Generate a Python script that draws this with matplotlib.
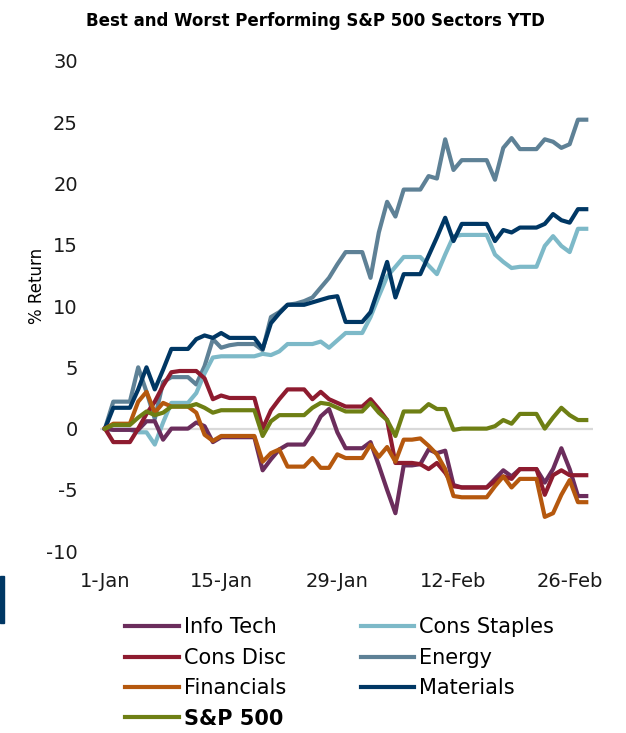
import matplotlib
matplotlib.use("Agg")
import matplotlib.pyplot as plt
import numpy as np
import pandas as pd
from matplotlib.patches import Rectangle

plt.rcParams["axes.unicode_minus"] = False

# daily YTD % return, 1-Jan .. 28-Feb
dates = pd.date_range("2021-01-01", periods=59, freq="D")
tick_dates = pd.to_datetime(["2021-01-01", "2021-01-15", "2021-01-29", "2021-02-12", "2021-02-26"])
tick_labels = ["1-Jan", "15-Jan", "29-Jan", "12-Feb", "26-Feb"]

info_tech = [0, -0.1, -0.1, -0.1, -0.1, 0.6, 0.6, -0.9, 0.0, 0.0,
             0.0, 0.5, 0.2, -1.1, -0.7, -0.7, -0.7, -0.7, -0.7, -3.4,
             -2.5, -1.7, -1.3, -1.3, -1.3, -0.3, 1.0, 1.6, -0.3, -1.6,
             -1.6, -1.6, -1.1, -3.0, -5.0, -6.9, -3.0, -3.0, -2.9, -1.7,
             -2.0, -1.8, -4.6, -4.8, -4.8, -4.8, -4.8, -4.1, -3.4, -3.9,
             -3.3, -3.3, -3.3, -4.4, -3.3, -1.6, -3.3, -5.5, -5.5]
cons_staples = [0, -0.1, -0.1, -0.1, -0.3, -0.3, -1.3, 0.5, 2.1, 2.1,
                2.1, 2.9, 4.5, 5.8, 5.9, 5.9, 5.9, 5.9, 5.9, 6.1,
                6.0, 6.3, 6.9, 6.9, 6.9, 6.9, 7.1, 6.6, 7.2, 7.8,
                7.8, 7.8, 9.1, 10.8, 12.4, 13.2, 14.0, 14.0, 14.0, 13.3,
                12.6, 14.2, 15.7, 15.8, 15.8, 15.8, 15.8, 14.2, 13.6, 13.1,
                13.2, 13.2, 13.2, 14.9, 15.7, 14.9, 14.4, 16.3, 16.3]
cons_disc = [0, -1.1, -1.1, -1.1, 0.0, 1.2, 2.2, 3.5, 4.6, 4.7,
             4.7, 4.7, 4.1, 2.4, 2.7, 2.5, 2.5, 2.5, 2.5, 0.0,
             1.5, 2.4, 3.2, 3.2, 3.2, 2.4, 3.0, 2.4, 2.1, 1.8,
             1.8, 1.8, 2.4, 1.6, 0.7, -2.8, -2.8, -2.8, -2.9, -3.3,
             -2.8, -3.6, -4.7, -4.8, -4.8, -4.8, -4.8, -4.3, -3.9, -4.1,
             -3.3, -3.3, -3.3, -5.4, -3.8, -3.4, -3.8, -3.8, -3.8]
energy = [0, 2.2, 2.2, 2.2, 5.0, 3.0, 0.8, 3.8, 4.2, 4.2,
          4.2, 3.6, 5.1, 7.3, 6.6, 6.8, 6.9, 6.9, 6.9, 6.4,
          9.1, 9.5, 10.1, 10.2, 10.4, 10.7, 11.5, 12.3, 13.4, 14.4,
          14.4, 14.4, 12.3, 16.0, 18.5, 17.3, 19.5, 19.5, 19.5, 20.6,
          20.4, 23.6, 21.1, 21.9, 21.9, 21.9, 21.9, 20.3, 22.9, 23.7,
          22.8, 22.8, 22.8, 23.6, 23.4, 22.9, 23.2, 25.2, 25.2]
financials = [0, 0.4, 0.4, 0.4, 2.2, 3.0, 1.3, 2.1, 1.8, 1.8,
              1.8, 1.3, -0.5, -1.0, -0.6, -0.6, -0.6, -0.6, -0.6, -2.7,
              -2.0, -1.7, -3.1, -3.1, -3.1, -2.4, -3.2, -3.2, -2.1, -2.4,
              -2.4, -2.4, -1.3, -2.3, -1.5, -2.7, -0.9, -0.9, -0.8, -1.4,
              -2.1, -3.3, -5.5, -5.6, -5.6, -5.6, -5.6, -4.7, -3.9, -4.8,
              -4.1, -4.1, -4.1, -7.2, -6.9, -5.4, -4.2, -6.0, -6.0]
materials = [0, 1.7, 1.7, 1.7, 3.2, 5.0, 3.2, 4.8, 6.5, 6.5,
             6.5, 7.3, 7.6, 7.4, 7.8, 7.4, 7.4, 7.4, 7.4, 6.5,
             8.6, 9.4, 10.1, 10.1, 10.1, 10.3, 10.5, 10.7, 10.8, 8.7,
             8.7, 8.7, 9.5, 11.5, 13.6, 10.7, 12.6, 12.6, 12.6, 14.1,
             15.6, 17.2, 15.3, 16.7, 16.7, 16.7, 16.7, 15.3, 16.2, 16.0,
             16.4, 16.4, 16.4, 16.7, 17.5, 17.0, 16.8, 17.9, 17.9]
sp500 = [0, 0.3, 0.3, 0.3, 0.9, 1.4, 1.1, 1.3, 1.8, 1.8,
         1.8, 2.0, 1.7, 1.3, 1.5, 1.5, 1.5, 1.5, 1.5, -0.6,
         0.6, 1.1, 1.1, 1.1, 1.1, 1.7, 2.1, 2.0, 1.7, 1.4,
         1.4, 1.4, 2.1, 1.3, 0.7, -0.6, 1.4, 1.4, 1.4, 2.0,
         1.6, 1.6, -0.1, 0.0, 0.0, 0.0, 0.0, 0.2, 0.7, 0.4,
         1.2, 1.2, 1.2, 0.0, 0.9, 1.7, 1.1, 0.7, 0.7]

fig = plt.figure(figsize=(6.26, 7.33), dpi=100)
ax = fig.add_axes([0.160, 0.248, 0.787, 0.669])

ax.axhline(0, color="#D9D9D9", lw=1.6, zorder=1)

# drawing order (bottom to top)
ln_energy, = ax.plot(dates, energy, color="#5E8196", lw=3, label="Energy")
ln_staples, = ax.plot(dates, cons_staples, color="#7DB9C8", lw=3, label="Cons Staples")
ln_mat, = ax.plot(dates, materials, color="#003764", lw=3, label="Materials")
ln_it, = ax.plot(dates, info_tech, color="#6B2D5C", lw=3, label="Info Tech")
ln_disc, = ax.plot(dates, cons_disc, color="#8E1B2F", lw=3, label="Cons Disc")
ln_fin, = ax.plot(dates, financials, color="#B5580E", lw=3, label="Financials")
ln_sp, = ax.plot(dates, sp500, color="#6E7F14", lw=3, label="S&P 500")

ax.set_ylim(-10, 30)
ax.set_yticks(np.arange(-10, 31, 5))
ax.set_xlim(dates[0] - pd.Timedelta(hours=14), dates[-1] + pd.Timedelta(hours=19))
ax.set_xticks(tick_dates)
ax.set_xticklabels(tick_labels)
ax.tick_params(axis="both", length=0, labelsize=14, colors="#1a1a1a")
ax.tick_params(axis="x", pad=15)
ax.tick_params(axis="y", pad=16)
for s in ax.spines.values():
    s.set_visible(False)
ax.set_ylabel("% Return", fontsize=12)
ax.yaxis.set_label_coords(-0.11, 0.54)

fig.text(0.504, 0.972, "Best and Worst Performing S&P 500 Sectors YTD",
         ha="center", va="center", fontsize=12, fontweight="bold")

handles = [ln_it, ln_disc, ln_fin, ln_sp, ln_staples, ln_energy, ln_mat]
leg = fig.legend(handles, [h.get_label() for h in handles], ncol=2,
                 loc="upper left", bbox_to_anchor=(0.187, 0.169), frameon=False,
                 fontsize=15, handlelength=2.55, handletextpad=0.25,
                 columnspacing=3.6, labelspacing=0.5, borderaxespad=0)
for t in leg.get_texts():
    if t.get_text() == "S&P 500":
        t.set_fontweight("bold")

# small accent bar on the left edge
fig.patches.append(Rectangle((0, 0.150), 0.007, 0.064, transform=fig.transFigure,
                             color="#003764", zorder=0))

fig.savefig("out.png", dpi=100)
